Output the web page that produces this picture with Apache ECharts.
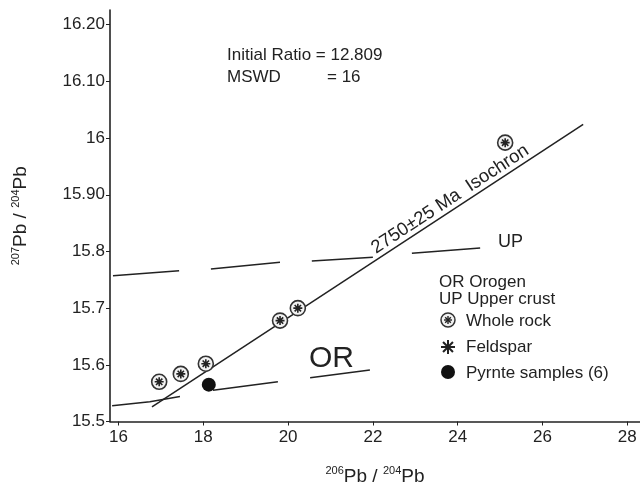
<!DOCTYPE html>
<html>
<head>
<meta charset="utf-8">
<script src="https://cdn.jsdelivr.net/npm/echarts@6/dist/echarts.min.js"></script>
<style>
html,body{margin:0;padding:0;background:#fff;}
#c{width:640px;height:491px;}
</style>
</head>
<body>
<div id="c"></div>
<script>
// ---- data ----
const xTicks = [16, 18, 20, 22, 24, 26, 28];
const yTicks = [15.5, 15.6, 15.7, 15.8, 15.9, 16.0, 16.1, 16.2];
const yTickLabels = ["15.5", "15.6", "15.7", "15.8", "15.90", "16", "16.10", "16.20"];

const wholeRockX = [16.96, 17.47, 18.06, 19.81, 20.23, 25.12];
const wholeRockY = [15.570, 15.584, 15.602, 15.678, 15.700, 15.992];

const pyriteX = [18.13];
const pyriteY = [15.565];

const isochronX = [16.79, 26.96];
const isochronY = [15.526, 16.024];

// orogen (OR) curve, dashed (null = gap)
const orogenX = [15.85, 16.74, 17.45, null, 18.23, 19.76, null, 20.52, 21.93];
const orogenY = [15.528, 15.535, 15.544, null, 15.555, 15.570, null, 15.577, 15.591];

// upper crust (UP) curve, dashed (null = gap)
const upperX = [15.87, 17.43, null, 18.18, 19.81, null, 20.56, 22.00, null, 22.92, 24.53];
const upperY = [15.757, 15.766, null, 15.769, 15.781, null, 15.783, 15.790, null, 15.797, 15.806];

const ratioText = "Initial Ratio = 12.809";
const mswdLabel = "MSWD";
const mswdValue = "= 16";
const isochronLabel = "2750±25 Ma  Isochron";
const legendLines = ["OR Orogen", "UP Upper crust", "Whole rock", "Feldspar", "Pyrnte samples (6)"];

// ---- helpers ----
function zipXY(xs, ys) { return xs.map((x, i) => (x === null ? [null, null] : [x, ys[i]])); }
const INK = '#222';
const FONT = 'Liberation Sans, Arial, sans-serif';
const astPath = 'path://M0,-10L0,10M-10,0L10,0M-7.07,-7.07L7.07,7.07M-7.07,7.07L7.07,-7.07';

function asterisk(cx, cy, r, lw) {
  const out = [];
  for (let k = 0; k < 4; k++) {
    const a = k * Math.PI / 4;
    out.push({ type: 'line', shape: { x1: cx - r * Math.cos(a), y1: cy - r * Math.sin(a), x2: cx + r * Math.cos(a), y2: cy + r * Math.sin(a) },
      style: { stroke: INK, lineWidth: lw }, silent: true });
  }
  return out;
}

const chart = echarts.init(document.getElementById('c'), null, { renderer: 'canvas' });

const option = {
  animation: false,
  backgroundColor: '#fff',
  grid: { left: 110, right: 0, top: 10, bottom: 68, containLabel: false },
  xAxis: {
    type: 'value', min: 15.8, max: 28.3,
    axisLine: { show: true, lineStyle: { color: INK, width: 1.6 } },
    axisTick: { show: true, length: 4, customValues: xTicks, lineStyle: { color: INK } },
    axisLabel: { customValues: xTicks, color: INK, fontSize: 17, fontFamily: FONT, margin: 7 },
    splitLine: { show: false },
    name: '{sup|206}{b|Pb / }{sup|204}{b|Pb}',
    nameLocation: 'middle', nameGap: 44,
    nameTextStyle: {
      rich: {
        b: { fontSize: 19, fontFamily: FONT, color: INK, lineHeight: 22 },
        sup: { fontSize: 11, fontFamily: FONT, color: INK, verticalAlign: 'top', lineHeight: 22 }
      }
    }
  },
  yAxis: {
    type: 'value', min: 15.5, max: 16.226,
    axisLine: { show: true, lineStyle: { color: INK, width: 1.6 } },
    axisTick: { show: true, length: 4, customValues: yTicks, lineStyle: { color: INK } },
    axisLabel: {
      customValues: yTicks, color: INK, fontSize: 17, fontFamily: FONT, margin: 5,
      formatter: function (v) {
        for (let i = 0; i < yTicks.length; i++) if (Math.abs(yTicks[i] - v) < 1e-6) return yTickLabels[i];
        return '';
      }
    },
    splitLine: { show: false },
    name: '{sup|207}{b|Pb / }{sup|204}{b|Pb}',
    nameLocation: 'middle', nameGap: 78, nameRotate: 90,
    nameTextStyle: {
      rich: {
        b: { fontSize: 19, fontFamily: FONT, color: INK, lineHeight: 22 },
        sup: { fontSize: 11, fontFamily: FONT, color: INK, verticalAlign: 'top', lineHeight: 22 }
      }
    }
  },
  series: [
    { type: 'line', name: 'UP', data: zipXY(upperX, upperY), showSymbol: false, connectNulls: false,
      lineStyle: { color: INK, width: 1.5 }, z: 2 },
    { type: 'line', name: 'OR', data: zipXY(orogenX, orogenY), showSymbol: false, connectNulls: false,
      lineStyle: { color: INK, width: 1.5 }, z: 2 },
    { type: 'line', name: 'Isochron', data: zipXY(isochronX, isochronY), showSymbol: false,
      lineStyle: { color: INK, width: 1.5 }, z: 2 },
    { type: 'scatter', name: 'Whole rock', data: zipXY(wholeRockX, wholeRockY), symbol: 'circle', symbolSize: 15,
      itemStyle: { color: '#f2f2f2', borderColor: '#333', borderWidth: 1.6, opacity: 1 }, z: 3 },
    { type: 'scatter', name: 'Feldspar', data: zipXY(wholeRockX, wholeRockY), symbol: astPath, symbolSize: 9,
      itemStyle: { color: INK, borderColor: INK, borderWidth: 1.6, opacity: 1 }, z: 4 },
    { type: 'scatter', name: 'Pyrite', data: zipXY(pyriteX, pyriteY), symbol: 'circle', symbolSize: 14,
      itemStyle: { color: '#111', opacity: 1 }, z: 4 }
  ]
};
chart.setOption(option);

// ---- annotations ----
const p0 = chart.convertToPixel({ gridIndex: 0 }, [isochronX[0], isochronY[0]]);
const p1 = chart.convertToPixel({ gridIndex: 0 }, [isochronX[1], isochronY[1]]);
const ang = Math.atan2(p0[1] - p1[1], p1[0] - p0[0]);
const tStart = 0.525; // fraction along isochron where the label begins
const lx = p0[0] + (p1[0] - p0[0]) * tStart;
const ly = p0[1] + (p1[1] - p0[1]) * tStart;

const legendX = 439, iconX = 448, textX = 466;
const graphics = [
  { type: 'text', x: 227, y: 55, style: { text: ratioText, font: '17px ' + FONT, fill: INK, textVerticalAlign: 'middle' } },
  { type: 'text', x: 227, y: 77, style: { text: mswdLabel, font: '17px ' + FONT, fill: INK, textVerticalAlign: 'middle' } },
  { type: 'text', x: 327, y: 77, style: { text: mswdValue, font: '17px ' + FONT, fill: INK, textVerticalAlign: 'middle' } },
  { type: 'text', x: lx, y: ly - 1, rotation: ang, originX: 0, originY: 0,
    style: { text: isochronLabel, font: '18.5px ' + FONT, fill: INK, textAlign: 'left', textVerticalAlign: 'bottom' } },
  { type: 'text', x: 498, y: 242, style: { text: 'UP', font: '18px ' + FONT, fill: INK, textVerticalAlign: 'middle' } },
  { type: 'text', x: 309, y: 359, style: { text: 'OR', font: '30px ' + FONT, fill: INK, textVerticalAlign: 'middle' } },
  { type: 'text', x: legendX, y: 282, style: { text: legendLines[0], font: '17px ' + FONT, fill: INK, textVerticalAlign: 'middle' } },
  { type: 'text', x: legendX, y: 299, style: { text: legendLines[1], font: '17px ' + FONT, fill: INK, textVerticalAlign: 'middle' } },
  { type: 'circle', shape: { cx: iconX, cy: 320, r: 7 }, style: { fill: '#f2f2f2', stroke: '#333', lineWidth: 1.5 } },
  ...asterisk(iconX, 320, 4, 1.4),
  { type: 'text', x: textX, y: 321, style: { text: legendLines[2], font: '17px ' + FONT, fill: INK, textVerticalAlign: 'middle' } },
  ...asterisk(iconX, 347, 7, 2),
  { type: 'text', x: textX, y: 347, style: { text: legendLines[3], font: '17px ' + FONT, fill: INK, textVerticalAlign: 'middle' } },
  { type: 'circle', shape: { cx: iconX, cy: 372, r: 7 }, style: { fill: '#111' } },
  { type: 'text', x: textX, y: 373, style: { text: legendLines[4], font: '17px ' + FONT, fill: INK, textVerticalAlign: 'middle' } }
];
chart.setOption({ graphic: graphics });
</script>
</body>
</html>
